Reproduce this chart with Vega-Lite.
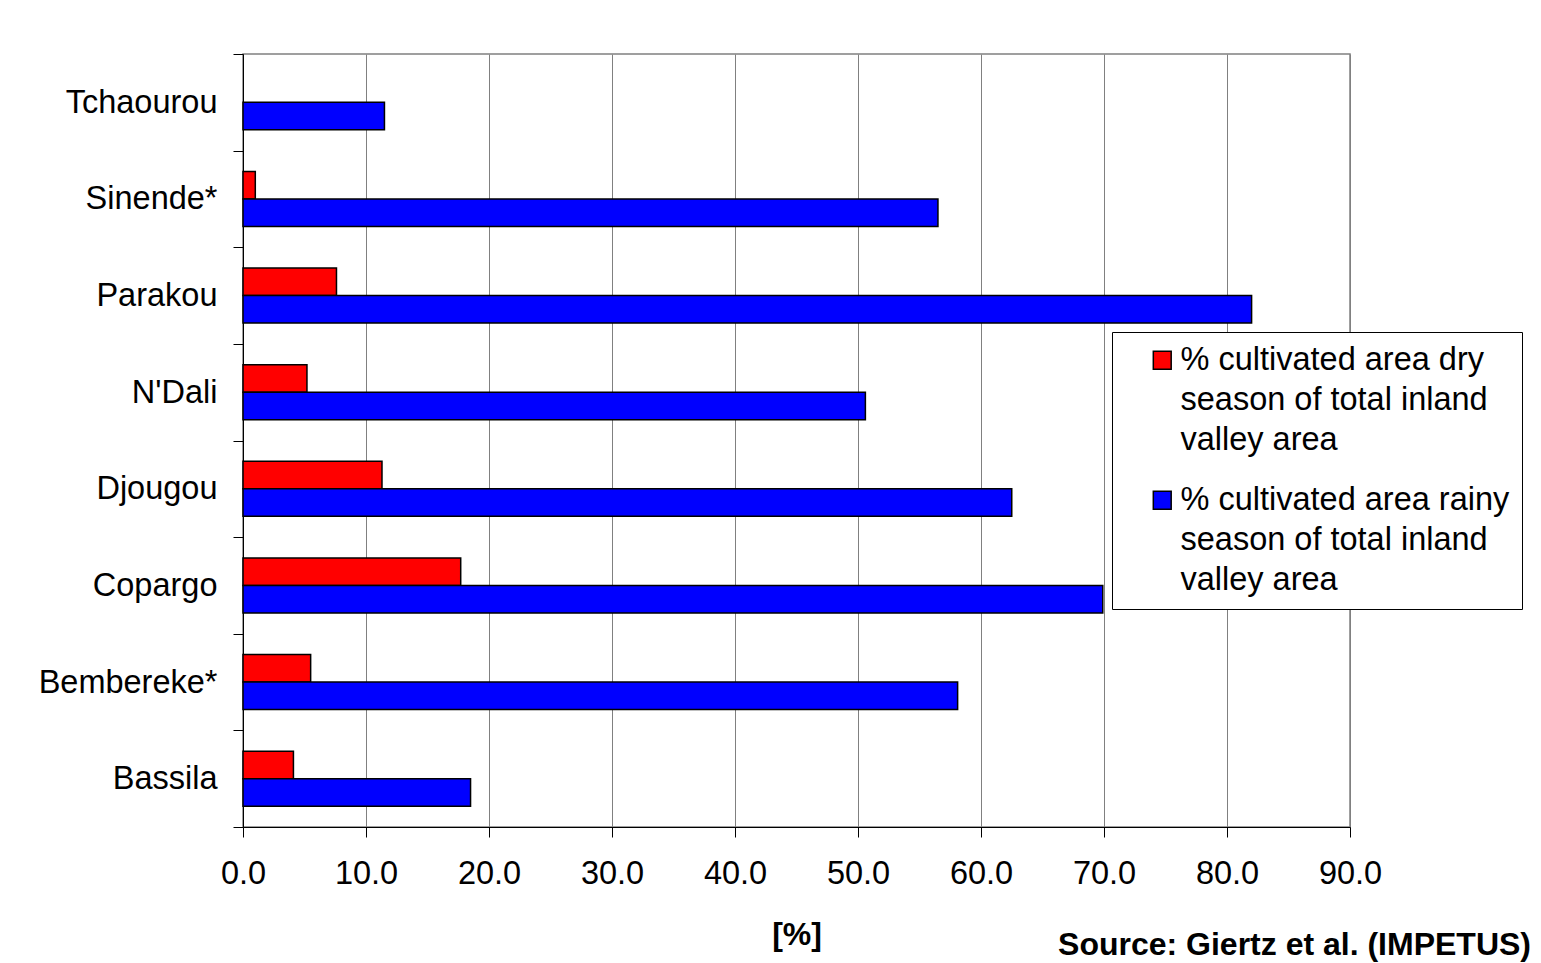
{
  "$schema": "https://vega.github.io/schema/vega-lite/v6.json",
  "width": 1107,
  "height": 773,
  "autosize": {"type": "none"},
  "padding": {"left": 243, "top": 54, "right": 191, "bottom": 136},
  "background": "white",
  "config": {
    "font": "Liberation Sans",
    "view": {"stroke": "#808080", "strokeWidth": 1.5}
  },
  "title": {
    "text": "Source: Giertz et al. (IMPETUS)",
    "orient": "bottom",
    "anchor": "end",
    "frame": "group",
    "dx": 181,
    "offset": -21,
    "fontSize": 32,
    "fontWeight": "bold",
    "color": "black"
  },
  "data": {
    "values": [
      {"town": "Tchaourou", "series": "rainy", "pct": 11.5},
      {"town": "Sinende*", "series": "dry", "pct": 1.0},
      {"town": "Sinende*", "series": "rainy", "pct": 56.5},
      {"town": "Parakou", "series": "dry", "pct": 7.6},
      {"town": "Parakou", "series": "rainy", "pct": 82.0},
      {"town": "N'Dali", "series": "dry", "pct": 5.2},
      {"town": "N'Dali", "series": "rainy", "pct": 50.6},
      {"town": "Djougou", "series": "dry", "pct": 11.3},
      {"town": "Djougou", "series": "rainy", "pct": 62.5},
      {"town": "Copargo", "series": "dry", "pct": 17.7},
      {"town": "Copargo", "series": "rainy", "pct": 69.9},
      {"town": "Bembereke*", "series": "dry", "pct": 5.5},
      {"town": "Bembereke*", "series": "rainy", "pct": 58.1},
      {"town": "Bassila", "series": "dry", "pct": 4.1},
      {"town": "Bassila", "series": "rainy", "pct": 18.5}
    ]
  },
  "mark": {"type": "bar", "stroke": "black", "strokeWidth": 1.5},
  "encoding": {
    "y": {
      "field": "town",
      "type": "nominal",
      "sort": ["Tchaourou", "Sinende*", "Parakou", "N'Dali", "Djougou", "Copargo", "Bembereke*", "Bassila"],
      "scale": {"paddingInner": 0, "paddingOuter": 0},
      "axis": {
        "title": null,
        "tickBand": "extent",
        "grid": false,
        "labelFontSize": 32.5,
        "labelColor": "black",
        "labelPadding": 16,
        "labelLimit": 0,
        "tickSize": 10,
        "tickColor": "black",
        "domainColor": "black"
      }
    },
    "yOffset": {
      "field": "series",
      "type": "nominal",
      "scale": {"paddingInner": 0, "paddingOuter": 0.757}
    },
    "x": {
      "field": "pct",
      "type": "quantitative",
      "scale": {"domain": [0, 90], "nice": false},
      "axis": {
        "values": [0, 10, 20, 30, 40, 50, 60, 70, 80, 90],
        "format": ".1f",
        "title": "[%]",
        "titleFontSize": 32,
        "titleFontWeight": "bold",
        "titleColor": "black",
        "titlePadding": 30,
        "labelFontSize": 32.5,
        "labelColor": "black",
        "labelPadding": 20,
        "labelFlush": false,
        "labelOverlap": false,
        "tickSize": 10,
        "tickColor": "black",
        "domainColor": "black",
        "grid": true,
        "gridColor": "#808080"
      }
    },
    "color": {
      "field": "series",
      "type": "nominal",
      "scale": {"domain": ["dry", "rainy"], "range": ["#ff0000", "#0000ff"]},
      "legend": {
        "title": null,
        "orient": "none",
        "legendX": 869,
        "legendY": 278,
        "padding": 12,
        "fillColor": "white",
        "strokeColor": "black",
        "symbolType": "square",
        "symbolSize": 320,
        "symbolStrokeColor": "black",
        "symbolStrokeWidth": 1.5,
        "symbolOffset": 22,
        "labelFontSize": 32.5,
        "labelColor": "black",
        "labelLimit": 0,
        "labelOffset": 2,
        "rowPadding": 27,
        "labelExpr": "split(datum.value == 'dry' ? '% cultivated area dry|season of total inland|valley area' : '% cultivated area rainy\u00a0\u00a0\u00a0\u00a0|season of total inland|valley area', '|')",
        "encode": {
          "labels": {"update": {"lineHeight": {"value": 40}}}
        }
      }
    }
  }
}
